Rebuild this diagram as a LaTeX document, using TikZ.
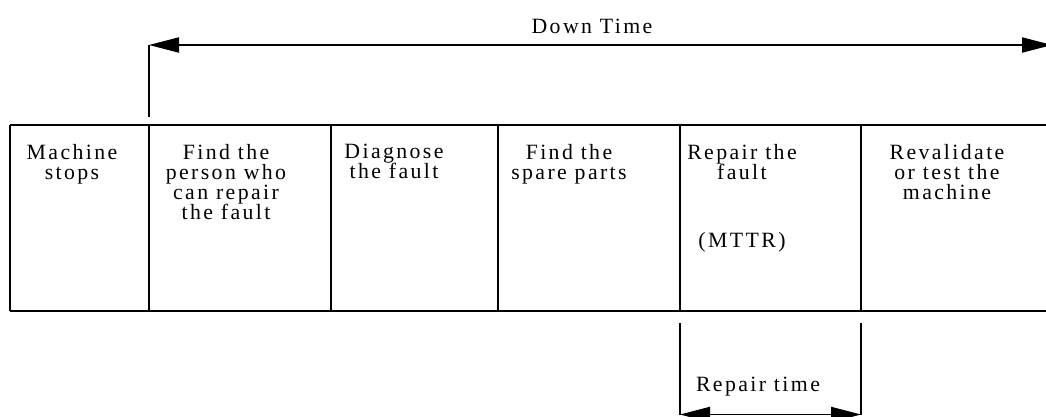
\documentclass[tikz,border=0pt]{standalone}
\usepackage{fontspec}
\setmainfont[LetterSpace=11]{Liberation Serif}
\usetikzlibrary{arrows.meta}
\newcommand{\stepfont}{\fontsize{15.5}{14.3}\selectfont}
\tikzstyle{cell} = [anchor=north, inner sep=0pt, align=center]
\tikzstyle{line} = [draw, line width=0.9pt]
\tikzstyle{timespan} = [line, {Triangle[length=0.75cm,width=0.38cm]}-{Triangle[length=0.75cm,width=0.38cm]}]

\begin{document}
\begin{tikzpicture}[x=0.025cm, y=-0.025cm, font=\stepfont]
    \useasboundingbox (0,0) rectangle (1046,416);
    \clip (0,0) rectangle (1046,416);
    %%% Table frame:
    \draw[line] (10,125) -- (1046,125);
    \draw[line] (10,311) -- (1046,311);
    \foreach \x in {10,149,331,498,680,861}
      \draw[line] (\x,125) -- (\x,311);
    %%% Steps:
    \node[cell] (stop) at (72,144) {Machine\\stops};
    \node[cell] (find) at (226,144) {Find the\\person who\\can repair\\the fault};
    \node[cell] (diag) at (394,144) {Diagnose\\the fault};
    \node[cell] (parts) at (569,144) {Find the\\spare parts};
    \node[cell] (repair) at (742,144) {Repair the\\fault\\[34pt](MTTR)};
    \node[cell] (reval) at (947,144) {Revalidate\\or test the\\machine};
    %%% Down time (runs on past the right edge):
    \coordinate (dt0) at (149,117);
    \coordinate (dt1) at (149,45);
    \coordinate (dt2) at (1052,45);
    \path [line] (dt0) -- (dt1);
    \path [timespan] (dt1) -- (dt2);
    \node[anchor=base] (down) at (592,33) {Down Time};
    %%% Repair time:
    \coordinate (rt0) at (680,323);
    \coordinate (rt1) at (680,414.5);
    \coordinate (rt2) at (861,323);
    \coordinate (rt3) at (861,414.5);
    \path [line] (rt0) -- (rt1); \path [line] (rt2) -- (rt3);
    \path [timespan] (rt1) -- (rt3);
    \node[anchor=base] (rtime) at (758,391) {Repair time};
\end{tikzpicture}
\end{document}
